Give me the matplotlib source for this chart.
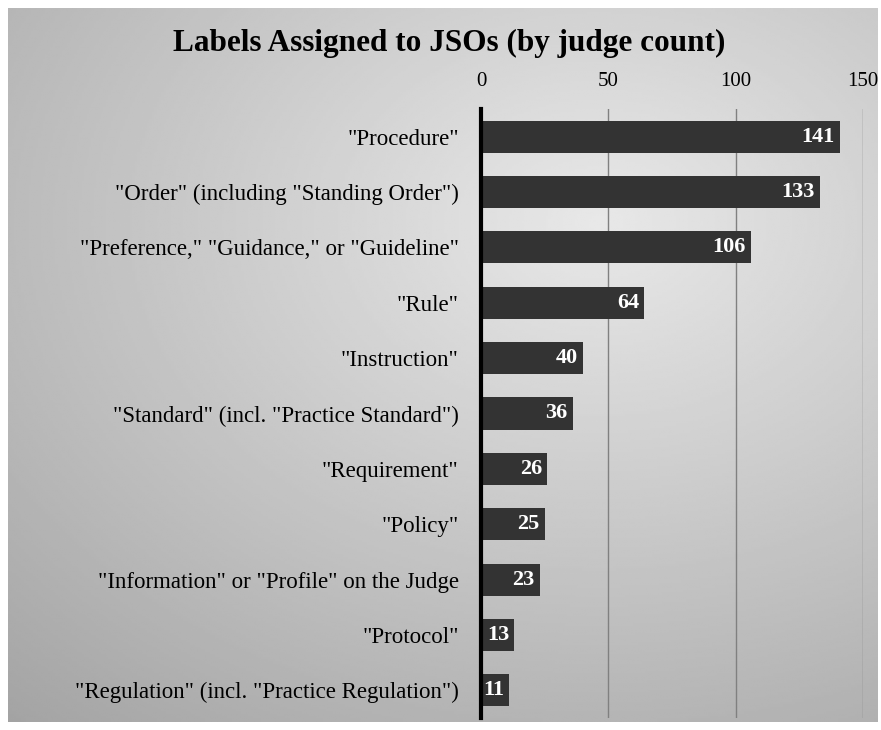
import numpy as np
import matplotlib.pyplot as plt

categories = [
    '"Procedure"',
    '"Order" (including "Standing Order")',
    '"Preference," "Guidance," or "Guideline"',
    '"Rule"',
    '"Instruction"',
    '"Standard" (incl. "Practice Standard")',
    '"Requirement"',
    '"Policy"',
    '"Information" or "Profile" on the Judge',
    '"Protocol"',
    '"Regulation" (incl. "Practice Regulation")',
]
counts = [141, 133, 106, 64, 40, 36, 26, 25, 23, 13, 11]
ticks = [0, 50, 100, 150]

plt.rcParams["font.family"] = ["Liberation Serif", "DejaVu Serif"]

fig = plt.figure(figsize=(8.81, 7.30), dpi=100)
fig.patch.set_facecolor("white")

# grey panel with a soft radial shading behind everything
bg = fig.add_axes([8 / 881, 8 / 730, 870 / 881, 714 / 730], zorder=-10)
yy, xx = np.mgrid[0:1:300j, 0:1:360j]
r = np.sqrt(((xx - 0.68) / 1.0) ** 2 + ((yy - 0.3) / 0.9) ** 2)
shade = np.clip(0.91 - 0.26 * r, 0.64, 0.91)
bg.imshow(shade, cmap="gray", vmin=0, vmax=1, aspect="auto",
          extent=[0, 1, 1, 0], interpolation="bilinear")
bg.axis("off")

ax = fig.add_axes([481 / 881, 12 / 730, 382 / 881, 609 / 730])
ax.patch.set_alpha(0)

y = np.arange(len(categories))
ax.barh(y, counts, height=0.58, color="#333333", zorder=3)
for yi, v in zip(y, counts):
    ax.text(v - 2.0, yi, str(v), ha="right", va="center", color="white",
            fontsize=16, fontweight="bold", zorder=4)

ax.set_ylim(len(categories) - 0.5, -0.5)
ax.set_xlim(0, 150)
ax.set_yticks(y)
ax.set_yticklabels(categories, fontsize=16.5)
ax.tick_params(axis="y", length=0, pad=16)
ax.xaxis.tick_top()
ax.set_xticks(ticks)
ax.tick_params(axis="x", length=0, labelsize=15, pad=13)
ax.grid(axis="x", color="#808080", linewidth=1)
ax.set_axisbelow(True)
for s in ["top", "right", "bottom"]:
    ax.spines[s].set_visible(False)
ax.spines["left"].set_linewidth(3)
ax.spines["left"].set_zorder(5)

fig.text(0.51, 0.94, "Labels Assigned to JSOs (by judge count)",
         ha="center", va="center", fontsize=22.5, fontweight="bold")

fig.savefig("out.png", dpi=100)
